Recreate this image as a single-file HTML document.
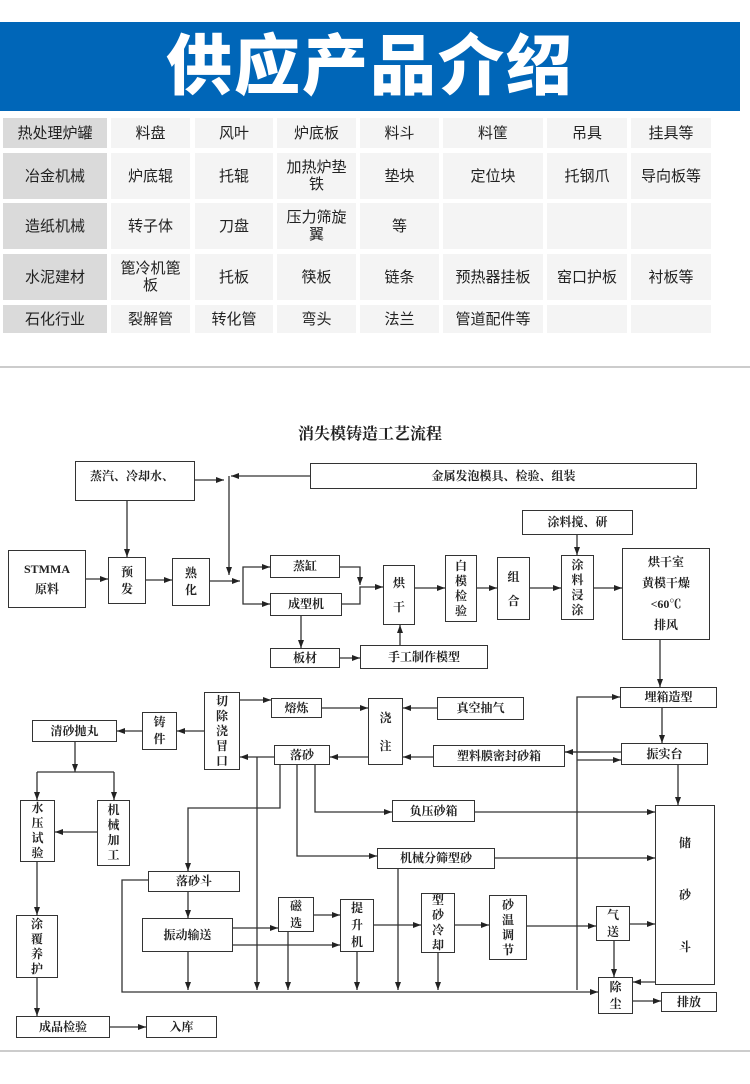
<!DOCTYPE html>
<html><head><meta charset="utf-8"><style>
body{margin:0;width:750px;height:1084px;background:#fff;position:relative;overflow:hidden;font-family:"Liberation Sans","Noto Sans CJK SC",sans-serif}
.band{position:absolute;left:0;top:22px;width:740px;height:89px;background:#0066b8;color:#fff;font-size:66px;font-weight:900;text-align:center;line-height:89px;letter-spacing:2px}
.c{position:absolute;background:#f4f4f4;display:flex;align-items:center;justify-content:center;text-align:center;font-size:15px;color:#222;line-height:17px}
.h{background:#dadada}
.line{position:absolute;left:0;width:750px;height:2px;background:#ccc}
.b{position:absolute;box-sizing:border-box;border:1.5px solid #333;background:#fff;display:flex;align-items:center;justify-content:center;text-align:center;font-family:"Liberation Serif","Noto Serif CJK SC",serif;font-weight:bold;font-size:12px;color:#222;line-height:17px}
.v{padding:0 9px;word-break:break-all}
svg{position:absolute;left:0;top:0}
</style></head><body>
<div class="band">供应产品介绍</div>
<!-- table -->
<div class="c h" style="left:3px;top:118px;width:104px;height:30px">热处理炉罐</div>
<div class="c" style="left:111px;top:118px;width:79px;height:30px">料盘</div>
<div class="c" style="left:195px;top:118px;width:78px;height:30px">风叶</div>
<div class="c" style="left:277px;top:118px;width:79px;height:30px">炉底板</div>
<div class="c" style="left:360px;top:118px;width:79px;height:30px">料斗</div>
<div class="c" style="left:443px;top:118px;width:100px;height:30px">料筐</div>
<div class="c" style="left:547px;top:118px;width:80px;height:30px">吊具</div>
<div class="c" style="left:631px;top:118px;width:80px;height:30px">挂具等</div>

<div class="c h" style="left:3px;top:153px;width:104px;height:46px">冶金机械</div>
<div class="c" style="left:111px;top:153px;width:79px;height:46px">炉底辊</div>
<div class="c" style="left:195px;top:153px;width:78px;height:46px">托辊</div>
<div class="c" style="left:277px;top:153px;width:79px;height:46px">加热炉垫<br>铁</div>
<div class="c" style="left:360px;top:153px;width:79px;height:46px">垫块</div>
<div class="c" style="left:443px;top:153px;width:100px;height:46px">定位块</div>
<div class="c" style="left:547px;top:153px;width:80px;height:46px">托钢爪</div>
<div class="c" style="left:631px;top:153px;width:80px;height:46px">导向板等</div>

<div class="c h" style="left:3px;top:203px;width:104px;height:46px">造纸机械</div>
<div class="c" style="left:111px;top:203px;width:79px;height:46px">转子体</div>
<div class="c" style="left:195px;top:203px;width:78px;height:46px">刀盘</div>
<div class="c" style="left:277px;top:203px;width:79px;height:46px">压力筛旋<br>翼</div>
<div class="c" style="left:360px;top:203px;width:79px;height:46px">等</div>
<div class="c" style="left:443px;top:203px;width:100px;height:46px"></div>
<div class="c" style="left:547px;top:203px;width:80px;height:46px"></div>
<div class="c" style="left:631px;top:203px;width:80px;height:46px"></div>

<div class="c h" style="left:3px;top:254px;width:104px;height:46px">水泥建材</div>
<div class="c" style="left:111px;top:254px;width:79px;height:46px">篦冷机篦<br>板</div>
<div class="c" style="left:195px;top:254px;width:78px;height:46px">托板</div>
<div class="c" style="left:277px;top:254px;width:79px;height:46px">筷板</div>
<div class="c" style="left:360px;top:254px;width:79px;height:46px">链条</div>
<div class="c" style="left:443px;top:254px;width:100px;height:46px">预热器挂板</div>
<div class="c" style="left:547px;top:254px;width:80px;height:46px">窑口护板</div>
<div class="c" style="left:631px;top:254px;width:80px;height:46px">衬板等</div>

<div class="c h" style="left:3px;top:305px;width:104px;height:28px">石化行业</div>
<div class="c" style="left:111px;top:305px;width:79px;height:28px">裂解管</div>
<div class="c" style="left:195px;top:305px;width:78px;height:28px">转化管</div>
<div class="c" style="left:277px;top:305px;width:79px;height:28px">弯头</div>
<div class="c" style="left:360px;top:305px;width:79px;height:28px">法兰</div>
<div class="c" style="left:443px;top:305px;width:100px;height:28px">管道配件等</div>
<div class="c" style="left:547px;top:305px;width:80px;height:28px"></div>
<div class="c" style="left:631px;top:305px;width:80px;height:28px"></div>

<div class="line" style="top:366px"></div>
<div class="line" style="top:1050px"></div>

<div style="position:absolute;left:0;width:740px;top:421px;text-align:center;font-family:'Liberation Serif','Noto Serif CJK SC',serif;font-weight:bold;font-size:16px;color:#222">消失模铸造工艺流程</div>

<svg width="750" height="1084" viewBox="0 0 750 1084">
<defs><marker id="a" markerWidth="8" markerHeight="6" refX="8" refY="3" orient="auto" markerUnits="userSpaceOnUse"><path d="M0,0L8,3L0,6z" fill="#222"/></marker></defs>
<g stroke="#333" stroke-width="1.3" fill="none" marker-end="url(#a)">
<path d="M195,480H224"/><path d="M310,476H231"/>
<path d="M229,476V575"/>
<path d="M127,501V557"/>
<path d="M86,579H108"/><path d="M146,580H172"/><path d="M210,581H240"/>
<path d="M243,581V567H270"/><path d="M243,581V604H270"/>
<path d="M340,567H360V585"/><path d="M342,604H360V587H383"/>
<path d="M301,616V648"/><path d="M340,658H360"/><path d="M400,645V625"/>
<path d="M415,588H445"/><path d="M477,588H497"/><path d="M530,588H561"/><path d="M594,588H622"/>
<path d="M577,535V555"/>
<path d="M660,640V687"/>
<path d="M662,708V743"/>
<path d="M565,752H621" marker-end="none"/><path d="M600,752H565"/>
<path d="M577,760H621"/>
<path d="M577,990V697H620"/>
<path d="M678,765V805"/>
<path d="M240,700H271"/><path d="M322,708H368"/><path d="M437,708H403"/>
<path d="M433,757H403"/><path d="M368,757H330"/><path d="M274,757H240"/>
<path d="M204,731H177"/><path d="M142,731H117"/>
<path d="M75,742V772"/><path d="M37,772H114" marker-end="none"/><path d="M37,772V800"/><path d="M114,772V800"/>
<path d="M97,832H55"/><path d="M37,862V915"/><path d="M37,978V1016"/><path d="M110,1027H146"/>
<path d="M257,757V990"/>
<path d="M280,765V808H188V871"/>
<path d="M297,765V856H377"/>
<path d="M315,765V812H392"/>
<path d="M475,812H655"/><path d="M495,858H655"/>
<path d="M148,880H122V992H598"/>
<path d="M188,892V918"/>
<path d="M233,928H278"/><path d="M233,945H340"/><path d="M314,915H340"/>
<path d="M374,925H421"/><path d="M455,925H489"/><path d="M527,926H596"/><path d="M630,924H655"/>
<path d="M188,952V990"/><path d="M288,932V990"/><path d="M357,952V990"/><path d="M398,869V990"/><path d="M438,953V990"/>
<path d="M614,941V977"/><path d="M655,982H633"/><path d="M633,1001H661"/>
</g>
</svg>

<div class="b" style="left:75px;top:461px;width:120px;height:40px;justify-content:flex-start;align-items:flex-start;padding:6px 0 0 14px">蒸汽、冷却水、</div>
<div class="b" style="left:310px;top:463px;width:387px;height:26px">金属发泡模具、检验、组装</div>
<div class="b" style="left:522px;top:510px;width:111px;height:25px">涂料搅、研</div>
<div class="b" style="left:8px;top:550px;width:78px;height:58px;line-height:20px">STMMA<br>原料</div>
<div class="b v" style="left:108px;top:557px;width:38px;height:47px">预发</div>
<div class="b v" style="left:172px;top:558px;width:38px;height:48px">熟化</div>
<div class="b" style="left:270px;top:555px;width:70px;height:23px">蒸缸</div>
<div class="b" style="left:270px;top:593px;width:72px;height:23px">成型机</div>
<div class="b v" style="left:383px;top:565px;width:32px;height:60px;line-height:24px">烘干</div>
<div class="b v" style="left:445px;top:555px;width:32px;height:67px;line-height:15px">白模检验</div>
<div class="b v" style="left:497px;top:557px;width:33px;height:63px;line-height:24px">组合</div>
<div class="b v" style="left:561px;top:555px;width:33px;height:65px;line-height:15px">涂料浸涂</div>
<div class="b" style="left:622px;top:548px;width:88px;height:92px;line-height:21px">烘干室<br>黄模干燥<br>&lt;60℃<br>排风</div>
<div class="b" style="left:270px;top:648px;width:70px;height:20px">板材</div>
<div class="b" style="left:360px;top:645px;width:128px;height:24px">手工制作模型</div>

<div class="b" style="left:620px;top:687px;width:97px;height:21px">埋箱造型</div>
<div class="b v" style="left:204px;top:692px;width:36px;height:78px;line-height:15px">切除浇冒口</div>
<div class="b" style="left:271px;top:698px;width:51px;height:20px">熔炼</div>
<div class="b v" style="left:368px;top:698px;width:35px;height:67px;line-height:28px">浇注</div>
<div class="b" style="left:437px;top:697px;width:87px;height:23px">真空抽气</div>
<div class="b" style="left:32px;top:720px;width:85px;height:22px">清砂抛丸</div>
<div class="b v" style="left:142px;top:712px;width:35px;height:38px">铸件</div>
<div class="b" style="left:274px;top:745px;width:56px;height:20px">落砂</div>
<div class="b" style="left:433px;top:745px;width:132px;height:22px">塑料膜密封砂箱</div>
<div class="b" style="left:621px;top:743px;width:87px;height:22px">振实台</div>
<div class="b v" style="left:20px;top:800px;width:35px;height:62px;line-height:15px">水压试验</div>
<div class="b v" style="left:97px;top:800px;width:33px;height:66px;line-height:15px">机械加工</div>
<div class="b" style="left:392px;top:800px;width:83px;height:22px">负压砂箱</div>
<div class="b v" style="left:655px;top:805px;width:60px;height:180px;line-height:52px;padding:0 21px">储砂斗</div>
<div class="b" style="left:377px;top:848px;width:118px;height:21px">机械分筛型砂</div>
<div class="b" style="left:148px;top:871px;width:92px;height:21px">落砂斗</div>
<div class="b v" style="left:278px;top:897px;width:36px;height:35px">磁选</div>
<div class="b v" style="left:340px;top:899px;width:34px;height:53px">提升机</div>
<div class="b v" style="left:421px;top:893px;width:34px;height:60px;line-height:15px">型砂冷却</div>
<div class="b v" style="left:489px;top:895px;width:38px;height:65px;line-height:15px">砂温调节</div>
<div class="b" style="left:142px;top:918px;width:91px;height:34px">振动输送</div>
<div class="b v" style="left:596px;top:906px;width:34px;height:35px">气送</div>
<div class="b v" style="left:16px;top:915px;width:42px;height:63px;line-height:15px">涂覆养护</div>
<div class="b v" style="left:598px;top:977px;width:35px;height:37px">除尘</div>
<div class="b" style="left:661px;top:992px;width:56px;height:20px">排放</div>
<div class="b" style="left:16px;top:1016px;width:94px;height:22px">成品检验</div>
<div class="b" style="left:146px;top:1016px;width:71px;height:22px">入库</div>
</body></html>
